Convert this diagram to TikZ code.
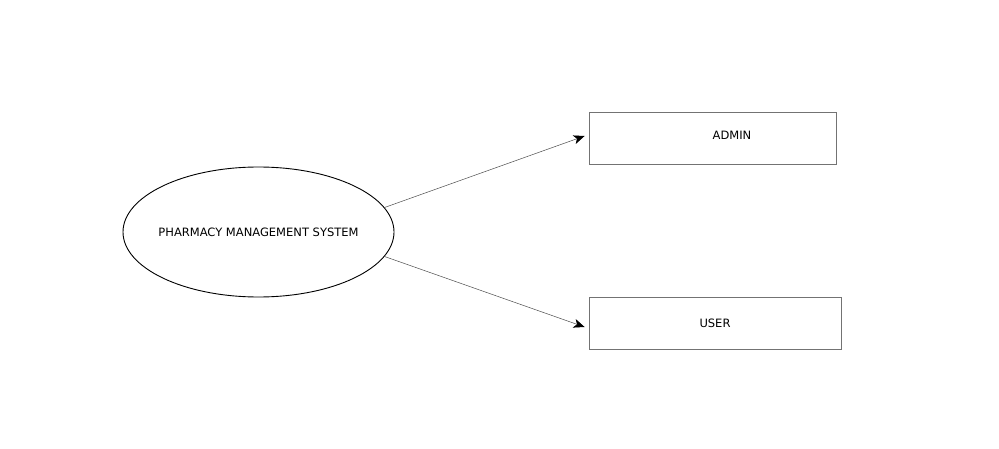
\documentclass[tikz,border=0pt]{standalone}
\usepackage{fontspec}
\setmainfont{DejaVu Sans}
\usetikzlibrary{arrows.meta,shapes.geometric,positioning}
\newcommand\boxh{52pt}

\begin{document}
\begin{tikzpicture}[x=1pt,y=1pt,font=\fontsize{11.5}{13}\selectfont,
  sysnode/.style={ellipse,draw=black,line width=0.9pt,minimum width=271pt,minimum height=130pt,inner xsep=-5pt,inner ysep=0pt},
  actorbox/.style={rectangle,draw=black!55,line width=0.8pt,minimum height=\boxh,inner sep=0pt},
  flow/.style={draw=black!70,line width=0.5pt,-{Stealth[length=11pt,width=9pt,inset=3pt,fill=black,color=black]}}]
\useasboundingbox (0,0) rectangle (999,448);
\node[sysnode] (pms) at (258.5,216) {PHARMACY MANAGEMENT SYSTEM};
\node[actorbox,minimum width=247pt,label={[xshift=19.5pt,yshift=3pt]center:ADMIN}] (admin) at (712.5,310) {};
\node[actorbox,minimum width=252pt] (user) at (715,124.5) {USER};
\draw[flow] (pms.11) -- ([shift={(-4pt,2pt)}]admin.west);
\draw[flow] (pms.-11.5) -- ([shift={(-4pt,-3.5pt)}]user.west);
\end{tikzpicture}
\end{document}
